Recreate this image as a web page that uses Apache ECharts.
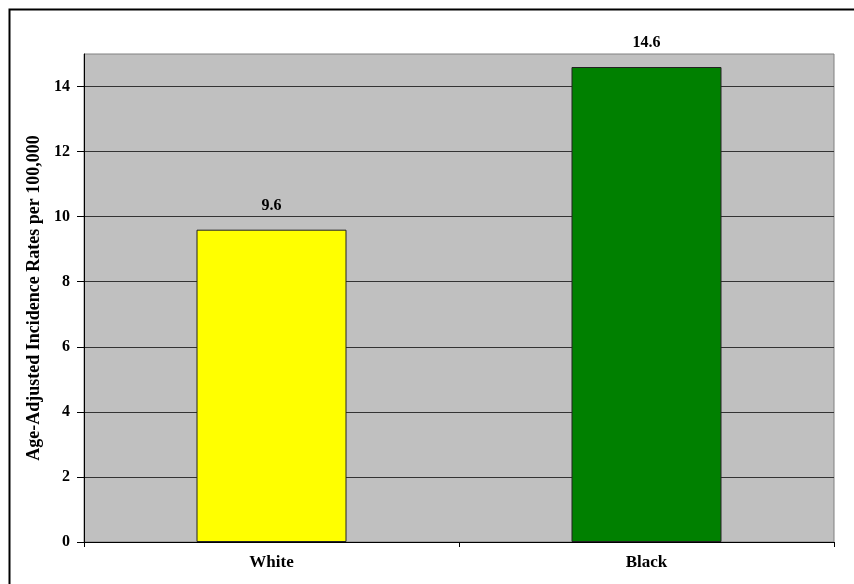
<!DOCTYPE html>
<html>
<head>
<meta charset="utf-8">
<script src="https://cdn.jsdelivr.net/npm/echarts@6/dist/echarts.min.js"></script>
<style>html,body{margin:0;padding:0;background:#fff;}#c{width:854px;height:584px;}</style>
</head>
<body>
<div id="c"></div>
<script>
const categories = ["White", "Black"];
const rates = [9.6, 14.6];
const barColors = ["#FFFF00", "#008000"];
const yAxisTitle = "Age-Adjusted Incidence Rates per 100,000";

const font = "'Liberation Serif', 'Times New Roman', serif";
const chart = echarts.init(document.getElementById('c'));
chart.setOption({
  animation: false,
  backgroundColor: '#ffffff',
  graphic: [{
    type: 'rect', silent: true, z: 100,
    shape: { x: 9.5, y: 9.5, width: 900, height: 900 },
    style: { fill: 'none', stroke: '#000', lineWidth: 2 }
  }],
  grid: {
    left: 84, top: 54, right: 20, bottom: 42,
    show: true, backgroundColor: '#C0C0C0', borderColor: '#808080', borderWidth: 1
  },
  xAxis: {
    type: 'category',
    data: categories,
    axisLine: { lineStyle: { color: '#000', width: 1 } },
    axisTick: { show: true, alignWithLabel: false, length: 5, lineStyle: { color: '#000' } },
    axisLabel: { fontFamily: font, fontWeight: 'bold', fontSize: 17, color: '#000', margin: 12 }
  },
  yAxis: {
    type: 'value',
    min: 0, max: 15, interval: 2,
    name: yAxisTitle,
    nameLocation: 'middle',
    nameGap: 34,
    nameTextStyle: { fontFamily: font, fontWeight: 'bold', fontSize: 18, color: '#000' },
    axisLine: { show: true, lineStyle: { color: '#000', width: 1 } },
    axisTick: { show: true, length: 7, lineStyle: { color: '#000' } },
    axisLabel: { fontFamily: font, fontWeight: 'bold', fontSize: 16, color: '#000', margin: 14, showMaxLabel: false },
    splitLine: { show: true, showMaxLine: false, lineStyle: { color: '#333', width: 1 } }
  },
  series: [{
    type: 'bar',
    barWidth: '40%',
    data: rates.map((v, i) => ({ value: v, itemStyle: { color: barColors[i] } })),
    itemStyle: { borderColor: '#222', borderWidth: 1 },
    label: {
      show: true, position: 'top', distance: 16,
      fontFamily: font, fontWeight: 'bold', fontSize: 16, color: '#000',
      formatter: p => p.value.toFixed(1)
    }
  }]
});
</script>
</body>
</html>
